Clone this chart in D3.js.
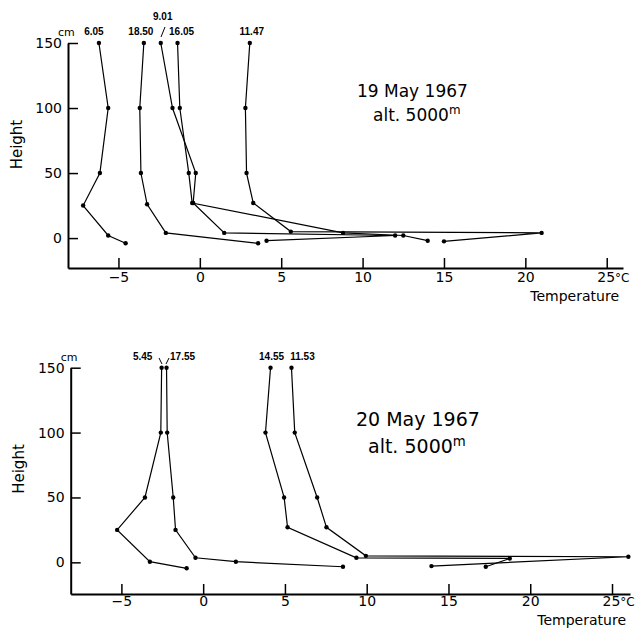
<!DOCTYPE html>
<html>
<head>
<meta charset="utf-8">
<script src="https://cdn.jsdelivr.net/npm/d3@7"></script>
<style>
  body { margin: 0; background: #fff; }
  svg { display: block; font-family: "DejaVu Sans", sans-serif; }
</style>
</head>
<body>
<script>
const ticksX = [-5, 0, 5, 10, 15, 20, 25];
const ticksY = [0, 50, 100, 150];

// 19 May 1967 — time of each profile, temperature (°C) and height (cm)
const labels19 = ["6.05", "18.50", "9.01", "16.05", "11.47"];
const temps19 = [
  [-6.2, -5.63, -6.14, -7.17, -5.63, -4.56],
  [-3.44, -3.69, -3.62, -3.24, -2.09, 3.58],
  [-2.4, -1.68, -0.25, -0.41, 1.5, 12.0, 4.1],
  [-1.37, -1.23, -0.68, -0.47, 8.8, 12.5, 14.0],
  [3.07, 2.8, 2.87, 3.28, 5.59, 21.0, 15.0],
];
const heights19 = [
  [150, 100, 50, 25, 2, -4],
  [150, 100, 50, 26, 4, -4],
  [150, 100, 50, 27, 4, 2, -2],
  [150, 100, 50, 27, 4, 2, -2],
  [150, 100, 50, 27, 5, 4, -2.5],
];

// 20 May 1967
const labels20 = ["5.45", "17.55", "14.55", "11.53"];
const temps20 = [
  [-2.54, -2.59, -3.56, -5.26, -3.26, -1.01],
  [-2.24, -2.2, -1.83, -1.69, -0.47, 2.0, 8.55],
  [4.12, 3.81, 4.95, 5.16, 9.37, 18.75, 17.28],
  [5.4, 5.6, 6.97, 7.54, 9.95, 26.0, 13.96],
];
const heights20 = [
  [150, 100, 50, 25, 0.5, -4.6],
  [150, 100, 50, 25, 3.5, 0.5, -3.4],
  [150, 100, 50, 27, 3.5, 3, -3.4],
  [150, 100, 50, 27, 5, 4.3, -2.9],
];

const width = 636;
const height = 628;

const svg = d3
  .select("body")
  .append("svg")
  .attr("width", width)
  .attr("height", height);

const drawPanel = (opts) => {
  const { labels, temps, heights, xRange, yRange, xDomain, yDomain } = opts;
  const x = d3.scaleLinear().domain(xDomain).range(xRange);
  const y = d3.scaleLinear().domain(yDomain).range(yRange);
  const g = svg.append("g");

  // axes
  const gx = g
    .append("g")
    .attr("transform", `translate(0,${yRange[0]})`)
    .call(
      d3.axisBottom(x).tickValues(ticksX).tickSizeInner(-10).tickSizeOuter(0).tickPadding(opts.xPad)
    );
  const gy = g
    .append("g")
    .attr("transform", `translate(${xRange[0]},0)`)
    .call(
      d3.axisLeft(y).tickValues(ticksY).tickSizeInner(-10).tickSizeOuter(0).tickPadding(6)
    );

  for (const a of [gx, gy]) {
    a.select(".domain").attr("stroke", "#000").attr("stroke-width", 2);
    a.selectAll(".tick line").attr("stroke", "#000").attr("stroke-width", 1.5);
    a.selectAll(".tick text")
      .attr("fill", "#000")
      .attr("font-size", 14)
      .attr("font-family", "DejaVu Sans, sans-serif");
  }
  gx.selectAll(".tick text")
    .filter((d) => d === 25)
    .attr("text-anchor", "start")
    .attr("x", -10)
    .append("tspan")
    .attr("font-size", 12)
    .text("°C");

  // profiles
  const line = d3
    .line()
    .x((d) => x(d[0]))
    .y((d) => y(d[1]));

  temps.forEach((ts, i) => {
    const pts = ts.map((t, j) => [t, heights[i][j]]);
    g.append("path")
      .attr("d", line(pts))
      .attr("fill", "none")
      .attr("stroke", "#000")
      .attr("stroke-width", 1.2);
    g.append("g")
      .selectAll("circle")
      .data(pts)
      .enter()
      .append("circle")
      .attr("cx", (d) => x(d[0]))
      .attr("cy", (d) => y(d[1]))
      .attr("r", 2.2)
      .attr("fill", "#000");
  });

  // time labels above the 150 cm points
  labels.forEach((lab, i) => {
    const top = opts.labelShift[i];
    g.append("text")
      .attr("x", x(temps[i][0]) + top[0])
      .attr("y", y(150) - 8 + top[1])
      .attr("text-anchor", "middle")
      .attr("font-family", "Liberation Sans, sans-serif")
      .attr("font-weight", "bold")
      .attr("font-size", 10)
      .text(lab);
  });

  g.append("text")
    .attr("x", xRange[0] - 10)
    .attr("y", y(150) - 7)
    .attr("font-size", 11)
    .text("cm");

  g.append("text")
    .attr("transform", `translate(${opts.heightX},${(y(150) + y(0)) / 2 + 4}) rotate(-90)`)
    .attr("text-anchor", "middle")
    .attr("font-size", 15)
    .text("Height");

  g.append("text")
    .attr("x", xRange[1] - 4)
    .attr("y", yRange[0] + opts.tempDy)
    .attr("text-anchor", "end")
    .attr("font-size", opts.tempSize)
    .text("Temperature");

  const title = opts.title;
  g.append("text")
    .attr("x", title.x)
    .attr("y", title.y)
    .attr("font-size", title.size)
    .text(title.date);
  const alt = g
    .append("text")
    .attr("x", title.x + title.altDx)
    .attr("y", title.y + title.size * 1.4)
    .attr("font-size", title.size)
    .text("alt. 5000");
  alt.append("tspan")
    .attr("dy", -7)
    .attr("font-size", title.size * 0.7)
    .text("m");

  return { g, x, y };
};

const p1 = drawPanel({
  labels: labels19,
  temps: temps19,
  heights: heights19,
  xDomain: [-8.1, 26],
  yDomain: [-23, 150],
  xRange: [68, 623],
  yRange: [268, 43],
  labelShift: [[-5, 0], [-3, 0], [2, -15], [4, 0], [2, 0]],
  heightX: 22,
  xPad: 4,
  tempSize: 14,
  tempDy: 33,
  title: { x: 357, y: 97, size: 17, date: "19 May 1967", altDx: 16 },
});

// small leader under "9.01"
p1.g.append("line")
  .attr("x1", 165).attr("y1", 27)
  .attr("x2", 161).attr("y2", 37)
  .attr("stroke", "#000").attr("stroke-width", 1);

const p2 = drawPanel({
  labels: labels20,
  temps: temps20,
  heights: heights20,
  xDomain: [-8.1, 26.1],
  yDomain: [-24.4, 150],
  xRange: [70.7, 630],
  yRange: [594, 367.7],
  labelShift: [[-19, 0], [16, 0], [1, 0], [11, 0]],
  heightX: 24,
  xPad: 2,
  tempSize: 14,
  tempDy: 31,
  title: { x: 356, y: 426, size: 19, date: "20 May 1967", altDx: 12 },
});

p2.g.append("line")
  .attr("x1", 159).attr("y1", 358)
  .attr("x2", 162).attr("y2", 364)
  .attr("stroke", "#000").attr("stroke-width", 1);
p2.g.append("line")
  .attr("x1", 169).attr("y1", 358)
  .attr("x2", 166).attr("y2", 364)
  .attr("stroke", "#000").attr("stroke-width", 1);
</script>
</body>
</html>
